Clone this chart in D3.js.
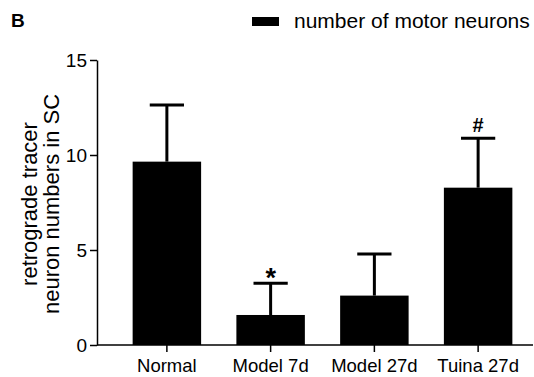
<!DOCTYPE html>
<html>
<head>
<meta charset="utf-8">
<script src="https://cdn.jsdelivr.net/npm/d3@7"></script>
<style>
  body { margin: 0; background: #fff; }
  svg text { font-family: "Liberation Sans", Arial, sans-serif; fill: #000; }
</style>
</head>
<body>
<div id="chart"></div>
<script>
// data
var categories = ["Normal", "Model 7d", "Model 27d", "Tuina 27d"];
var means = [9.65, 1.58, 2.6, 8.28];
var sds = [2.98, 1.67, 2.19, 2.6];
var marks = ["", "*", "", "#"];
var yTicks = [0, 5, 10, 15];

var width = 534, height = 377;

var svg = d3.select("#chart").append("svg")
    .attr("width", width)
    .attr("height", height);

var x = d3.scaleBand()
    .domain(categories)
    .range([115, 530])
    .paddingInner(0.34)
    .paddingOuter(0.17);

var y = d3.scaleLinear()
    .domain([0, 15])
    .range([345, 60]);

// panel letter
svg.append("text")
    .attr("x", 11)
    .attr("y", 27)
    .style("font-size", "19px")
    .style("font-weight", "bold")
    .text("B");

// legend
svg.append("rect")
    .attr("x", 252)
    .attr("y", 17)
    .attr("width", 27)
    .attr("height", 9)
    .attr("fill", "#000");
svg.append("text")
    .attr("x", 294)
    .attr("y", 28)
    .style("font-size", "21px")
    .text("number of motor neurons");

// bars
svg.selectAll(".bar").data(categories).enter().append("rect")
    .attr("class", "bar")
    .attr("x", function(d) { return x(d); })
    .attr("width", x.bandwidth())
    .attr("y", function(d, i) { return y(means[i]); })
    .attr("height", function(d, i) { return y(0) - y(means[i]); })
    .attr("fill", "#000");

// error bars (upper only)
var err = svg.selectAll(".err").data(categories).enter().append("g")
    .attr("class", "err")
    .attr("transform", function(d) { return "translate(" + (x(d) + x.bandwidth() / 2) + ",0)"; });

err.append("line")
    .attr("y1", function(d, i) { return y(means[i]); })
    .attr("y2", function(d, i) { return y(means[i] + sds[i]); })
    .attr("stroke", "#000")
    .attr("stroke-width", 3);

err.append("line")
    .attr("x1", -x.bandwidth() / 4)
    .attr("x2", x.bandwidth() / 4)
    .attr("y1", function(d, i) { return y(means[i] + sds[i]); })
    .attr("y2", function(d, i) { return y(means[i] + sds[i]); })
    .attr("stroke", "#000")
    .attr("stroke-width", 3);

// significance marks
err.append("text")
    .attr("text-anchor", "middle")
    .attr("y", function(d, i) {
        return y(means[i] + sds[i]) + (marks[i] === "*" ? 4 : -6);
    })
    .style("font-size", function(d, i) { return marks[i] === "*" ? "27px" : "20px"; })
    .style("font-weight", "bold")
    .text(function(d, i) { return marks[i]; });

// y axis
var yAxis = svg.append("g")
    .attr("transform", "translate(97,0)")
    .call(d3.axisLeft(y).tickValues(yTicks).tickSize(7).tickSizeOuter(0).tickPadding(3));
yAxis.selectAll("text").style("font-size", "19px");

// x axis
var xAxis = svg.append("g")
    .attr("transform", "translate(0,345)")
    .call(d3.axisBottom(x).tickSize(7).tickPadding(7));
xAxis.select(".domain").remove();
xAxis.selectAll("text").style("font-size", "18.5px");

svg.append("line")
    .attr("x1", 97)
    .attr("x2", 533)
    .attr("y1", 345)
    .attr("y2", 345)
    .attr("stroke", "#000")
    .attr("stroke-width", 1.5);

svg.selectAll(".tick line, .domain").attr("stroke", "#000").attr("stroke-width", 1.5);

// y axis title
svg.append("text")
    .attr("transform", "translate(37,204) rotate(-90)")
    .attr("text-anchor", "middle")
    .style("font-size", "22px")
    .selectAll("tspan")
    .data(["retrograde tracer", "neuron numbers in SC"])
    .enter().append("tspan")
    .attr("x", 0)
    .attr("dy", function(d, i) { return i === 0 ? 0 : 22; })
    .text(function(d) { return d; });
</script>
</body>
</html>
